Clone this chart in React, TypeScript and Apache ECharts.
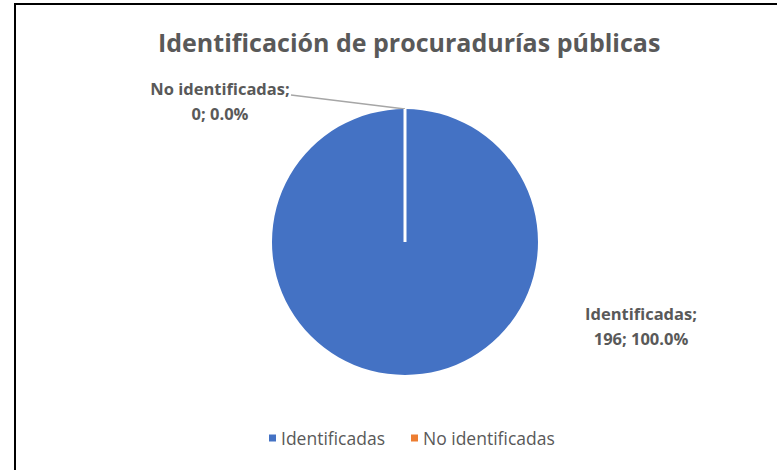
import React, { useEffect, useRef } from "react";
import * as echarts from "echarts";

const categories = ["Identificadas", "No identificadas"];
const values = [196, 0];
const colors = ["#4472C4", "#ED7D31"];
const titleText = "Identificación de procuradurías públicas";

export default function App() {
  const ref = useRef<HTMLDivElement>(null);
  useEffect(() => {
    if (!ref.current) return;
    const chart = echarts.init(ref.current, undefined, { renderer: "svg" });
    const total = values.reduce((a, b) => a + b, 0);
    const cx = 405;
    const cy = 242;
    const r = 133;
    chart.setOption({
      animation: false,
      backgroundColor: "#fff",
      color: colors,
      title: {
        text: titleText,
        left: 153,
        top: 24,
        textStyle: {
          fontFamily: "Open Sans",
          fontSize: 25,
          fontWeight: "bold",
          color: "#595959",
        },
      },
      legend: {
        bottom: 18,
        left: 264,
        itemWidth: 7,
        itemHeight: 7,
        itemGap: 26,
        icon: "rect",
        textStyle: {
          fontFamily: "Open Sans",
          fontSize: 17.5,
          color: "#595959",
        },
        data: categories,
      },
      graphic: [
        {
          type: "rect",
          shape: { x: 15, y: 4, width: 900, height: 600 },
          style: { fill: "none", stroke: "#000", lineWidth: 2 },
          silent: true,
        },
        {
          type: "line",
          z: 100,
          shape: { x1: cx, y1: cy, x2: cx, y2: cy - r },
          style: { stroke: "#fff", lineWidth: 3 },
          silent: true,
        },
      ],
      series: [
        {
          type: "pie",
          center: [cx, cy],
          radius: r,
          startAngle: 90,
          clockwise: true,
          avoidLabelOverlap: false,
          itemStyle: { borderColor: "#fff", borderWidth: 0 },
          label: {
            show: true,
            fontFamily: "Open Sans",
            fontSize: 16.5,
            fontWeight: "bold",
            color: "#595959",
            lineHeight: 25,
            align: "center",
            formatter: (p: any) =>
              `${p.name};\n${p.value}; ${((p.value / total) * 100).toFixed(1)}%`,
          },
          labelLine: {
            show: true,
            lineStyle: { color: "#A6A6A6", width: 1.5 },
          },
          labelLayout: (p: any) => {
            if (p.dataIndex === 0) {
              return { x: 641, y: 326, align: "center", verticalAlign: "middle" };
            }
            return {
              x: 220,
              y: 101,
              align: "center",
              verticalAlign: "middle",
              labelLinePoints: [
                [cx, cy - r],
                [cx, cy - r],
                [291, 95],
              ],
            };
          },
          data: categories.map((name, i) => ({
            name,
            value: values[i],
            labelLine: { show: i !== 0 },
          })),
        },
      ],
    });
    return () => chart.dispose();
  }, []);
  return (
    <div
      ref={ref}
      style={{ position: "fixed", left: 0, top: 0, width: 777, height: 470 }}
    />
  );
}
